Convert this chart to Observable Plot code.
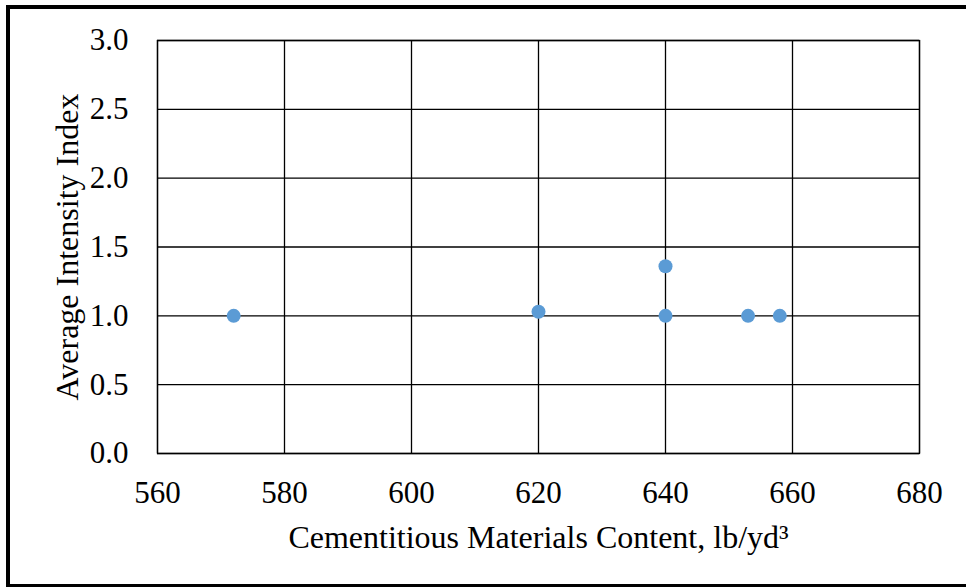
<!DOCTYPE html>
<html>
<head>
<meta charset="utf-8">
<script src="https://cdn.jsdelivr.net/npm/d3@7"></script>
<script src="https://cdn.jsdelivr.net/npm/@observablehq/plot@0.6"></script>
<style>
  html, body { margin: 0; padding: 0; background: #fff; }
  #wrap { position: relative; width: 966px; height: 588px; overflow: hidden; }
  #wrap svg, #wrap svg text { font-family: "Liberation Serif", "Times New Roman", serif !important; }
  #border { position: absolute; left: 6px; top: 5px; right: -10px; bottom: 1px;
            border-top: 4px solid #000; border-left: 4px solid #000; border-bottom: 3px solid #000;
            pointer-events: none; }
</style>
</head>
<body>
<div id="wrap"><div id="border"></div></div>
<script>
const content = [572, 620, 640, 640, 653, 658];
const intensity = [1.0, 1.03, 1.36, 1.0, 1.0, 1.0];
const xTicks = [560, 580, 600, 620, 640, 660, 680];
const yTicks = [0, 0.5, 1.0, 1.5, 2.0, 2.5, 3.0];
const xLabel = "Cementitious Materials Content, lb/yd³";
const yLabel = "Average Intensity Index";

const data = content.map((c, i) => ({x: c, y: intensity[i]}));
const serif = "'Liberation Serif', 'Times New Roman', serif";

const chart = Plot.plot({
  width: 966,
  height: 588,
  marginLeft: 157,
  marginRight: 47,
  marginTop: 40,
  marginBottom: 135,
  style: "font-family: 'Liberation Serif', 'Times New Roman', serif; background: transparent; color: #000;",
  x: {domain: [560, 680], ticks: xTicks},
  y: {domain: [0, 3], ticks: yTicks},
  marks: [
    Plot.gridX(xTicks, {stroke: "#000", strokeOpacity: 1, strokeWidth: 1.3}),
    Plot.gridY(yTicks, {stroke: "#000", strokeOpacity: 1, strokeWidth: 1.3}),
    Plot.frame({stroke: "#000", strokeWidth: 1.3}),
    Plot.axisX(xTicks, {tickSize: 0, tickPadding: 27, fontSize: 31, fontFamily: serif, label: null, tickFormat: d3.format("d")}),
    Plot.axisY(yTicks, {tickSize: 0, tickPadding: 29, fontSize: 31, fontFamily: serif, label: null, tickFormat: d3.format(".1f")}),
    Plot.dot(data, {x: "x", y: "y", r: 7, fill: "#5B9BD5", stroke: "none"}),
    Plot.text([xLabel], {frameAnchor: "bottom", textAnchor: "middle", lineAnchor: "bottom", dy: 94, fontSize: 32, fontFamily: serif, fill: "#000"}),
    Plot.text([yLabel], {frameAnchor: "left", textAnchor: "middle", lineAnchor: "bottom", rotate: -90, dx: -80, fontSize: 32, fontFamily: serif, fill: "#000"})
  ]
});
document.getElementById("wrap").insertBefore(chart, document.getElementById("border"));
</script>
</body>
</html>
